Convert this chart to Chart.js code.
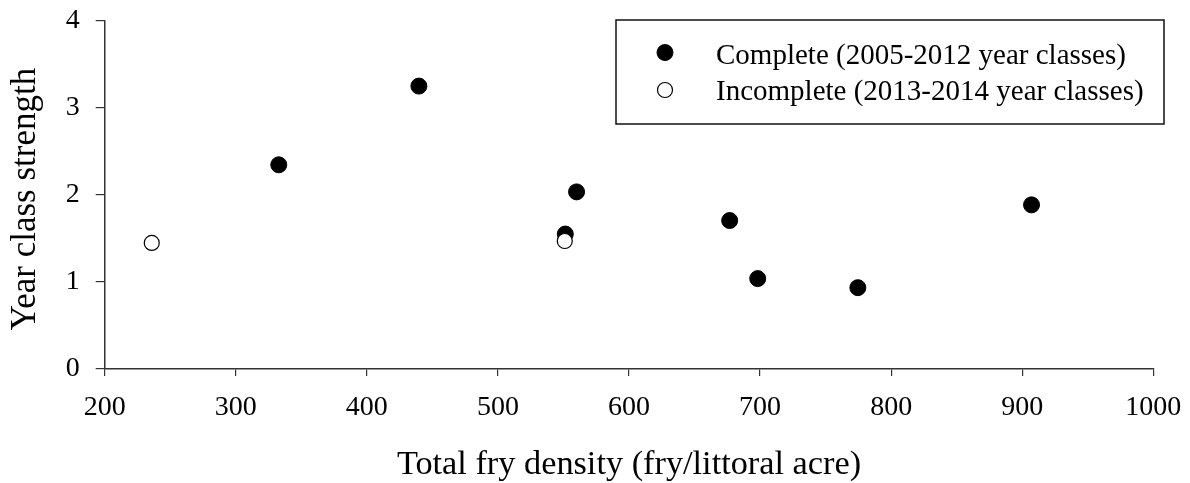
<!DOCTYPE html>
<html>
<head>
<meta charset="utf-8">
<script src="https://cdn.jsdelivr.net/npm/chart.js@4"></script>
<style>
  html, body { margin: 0; padding: 0; background: #ffffff; }
  #wrap { position: relative; width: 1190px; height: 483px; }
</style>
</head>
<body>
<div id="wrap"><canvas id="chart" width="1190" height="483"></canvas></div>
<script>
// Fry density (fry per littoral acre) and resulting year class strength
const completeDensity  = [332.8, 439.7, 551.4, 560.0, 676.8, 698.2, 774.6, 907.1];
const completeStrength = [2.345, 3.249, 1.550, 2.034, 1.705, 1.038, 0.934, 1.885];
const incompleteDensity  = [235.9, 551.0];
const incompleteStrength = [1.448, 1.470];

const seriesLabels = ['Complete (2005-2012 year classes)', 'Incomplete (2013-2014 year classes)'];
const xTicks = [200, 300, 400, 500, 600, 700, 800, 900, 1000];
const yTicks = [0, 1, 2, 3, 4];

const xTitle = 'Total fry density (fry/littoral acre)';
const yTitle = 'Year class strength ';

const SERIF = '"Liberation Serif", "Times New Roman", Times, serif';
const AXIS_COLOR = '#333333';

function toPoints(xs, ys) {
  return xs.map((x, i) => ({ x: x, y: ys[i] }));
}

// Keep tick labels from pushing the plot area inward
function noLabelOverhang(scale) {
  scale.paddingTop = 0;
  scale.paddingBottom = 0;
  scale.paddingLeft = 0;
  scale.paddingRight = 0;
}

// Boxed legend drawn in the upper right of the plot
const boxedLegend = {
  id: 'boxedLegend',
  afterDraw(chart) {
    const ctx = chart.ctx;
    const box = { left: 616, top: 20, right: 1164, bottom: 124 };
    ctx.save();
    ctx.lineWidth = 1.5;
    ctx.strokeStyle = '#111111';
    ctx.strokeRect(box.left, box.top, box.right - box.left, box.bottom - box.top);

    const rows = [
      { cy: 52.5, baseline: 64 },
      { cy: 90, baseline: 100 }
    ];
    ctx.font = '29px ' + SERIF;
    ctx.textBaseline = 'alphabetic';
    ctx.textAlign = 'left';
    rows.forEach((row, i) => {
      const ds = chart.data.datasets[i];
      ctx.beginPath();
      ctx.arc(665, row.cy, i === 0 ? 8 : 7.5, 0, Math.PI * 2);
      ctx.fillStyle = ds.backgroundColor;
      ctx.fill();
      ctx.lineWidth = ds.borderWidth;
      ctx.strokeStyle = ds.borderColor;
      ctx.stroke();
      ctx.fillStyle = '#000000';
      ctx.fillText(ds.label, 716, row.baseline);
    });
    ctx.restore();
  }
};

new Chart(document.getElementById('chart'), {
  type: 'scatter',
  data: {
    datasets: [
      {
        label: seriesLabels[0],
        data: toPoints(completeDensity, completeStrength),
        backgroundColor: '#000000',
        borderColor: '#000000',
        borderWidth: 1,
        pointRadius: 8,
        pointHoverRadius: 8,
        order: 1
      },
      {
        label: seriesLabels[1],
        data: toPoints(incompleteDensity, incompleteStrength),
        backgroundColor: '#ffffff',
        borderColor: '#000000',
        borderWidth: 1.2,
        pointRadius: 7.5,
        pointHoverRadius: 7.5,
        order: 0
      }
    ]
  },
  options: {
    responsive: false,
    animation: false,
    events: [],
    layout: { padding: { left: 0, right: 36.7, top: 20.7, bottom: 0 } },
    plugins: {
      legend: { display: false },
      tooltip: { enabled: false }
    },
    scales: {
      x: {
        type: 'linear',
        min: xTicks[0],
        max: xTicks[xTicks.length - 1],
        afterBuildTicks(scale) { scale.ticks = xTicks.map(v => ({ value: v })); },
        afterFit(scale) { scale.height = 483 - 369; noLabelOverhang(scale); },
        border: { display: true, color: AXIS_COLOR, width: 1.5 },
        grid: { display: true, drawOnChartArea: false, drawTicks: true, tickLength: 7, tickColor: AXIS_COLOR, lineWidth: 1.2 },
        ticks: { color: '#000000', padding: 15, maxRotation: 0, autoSkip: false, callback: v => String(v), font: { family: SERIF, size: 28 } },
        title: { display: true, text: xTitle, color: '#000000', font: { family: SERIF, size: 34.3, lineHeight: 1 }, padding: { top: 0, bottom: 1 } }
      },
      y: {
        type: 'linear',
        min: yTicks[0],
        max: yTicks[yTicks.length - 1],
        afterBuildTicks(scale) { scale.ticks = yTicks.map(v => ({ value: v })); },
        afterFit(scale) { scale.width = 104.7; noLabelOverhang(scale); },
        border: { display: true, color: AXIS_COLOR, width: 1.5 },
        grid: { display: true, drawOnChartArea: false, drawTicks: true, tickLength: 9, tickColor: AXIS_COLOR, lineWidth: 1.2 },
        ticks: { color: '#000000', padding: 16, callback: v => String(v), font: { family: SERIF, size: 28 } },
        title: { display: true, text: yTitle, color: '#000000', font: { family: SERIF, size: 35, lineHeight: 1 }, padding: { top: 8, bottom: 0 } }
      }
    }
  },
  plugins: [boxedLegend]
});
</script>
</body>
</html>
